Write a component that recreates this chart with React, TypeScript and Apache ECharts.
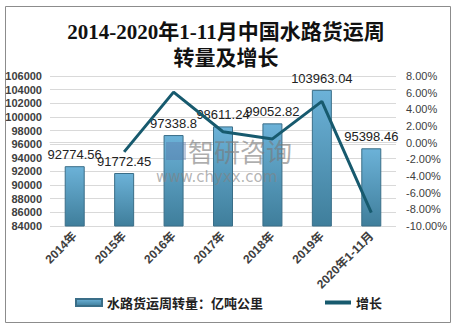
import React, { useEffect, useRef } from "react";
import * as echarts from "echarts";

const categories = ["2014年", "2015年", "2016年", "2017年", "2018年", "2019年", "2020年1-11月"];
const turnover = [92774.56, 91772.45, 97338.8, 98611.24, 99052.82, 103963.04, 95398.46];
const growth = [null, -1.1, 6.07, 1.31, 0.45, 4.96, -8.4];
const titleText = "2014-2020年1-11月中国水路货运周\n转量及增长";
const barName = "水路货运周转量：亿吨公里";
const lineName = "增长";

export default function App() {
  const ref = useRef<HTMLDivElement>(null);
  useEffect(() => {
    if (!ref.current) return;
    const chart = echarts.init(ref.current, null, { renderer: "svg" });
    chart.setOption({
      animation: false,
      backgroundColor: "#fff",
      title: {
        text: titleText,
        left: "center",
        top: 14,
        textStyle: {
          fontFamily: "'Liberation Serif', 'Noto Sans CJK SC', serif",
          fontSize: 21,
          fontWeight: "bold",
          color: "#111",
          lineHeight: 26,
        },
      },
      grid: { left: 50, right: 56, top: 76, bottom: 101, containLabel: false },
      legend: {
        bottom: 13,
        left: 70,
        itemGap: 62,
        itemWidth: 26,
        itemHeight: 7,
        symbolKeepAspect: true,
        textStyle: {
          fontFamily: "'Noto Sans CJK SC', sans-serif",
          fontSize: 13,
          fontWeight: "bold",
          color: "#222",
        },
        data: [
          { name: barName, icon: "rect" },
          { name: lineName, icon: "path://M0,0L26,0L26,4L0,4Z", itemStyle: { color: "#175a6e" } },
        ],
      },
      xAxis: {
        type: "category",
        data: categories,
        axisLine: { show: true, lineStyle: { color: "#d9d9d9" } },
        axisTick: { show: false },
        axisLabel: {
          rotate: 45,
          interval: 0,
          fontFamily: "'Liberation Sans', 'Noto Sans CJK SC', sans-serif",
          fontSize: 12,
          fontWeight: "bold",
          color: "#404040",
          margin: 8,
        },
      },
      yAxis: [
        {
          type: "value",
          min: 84000,
          max: 106000,
          interval: 2000,
          axisLine: { show: false },
          axisTick: { show: false },
          splitLine: { lineStyle: { color: "#d9d9d9" } },
          axisLabel: {
            fontFamily: "'Liberation Sans', sans-serif",
            fontSize: 11,
            fontWeight: "bold",
            color: "#404040",
            margin: 8,
            formatter: (v: number) => String(v),
          },
        },
        {
          type: "value",
          min: -10,
          max: 8,
          interval: 2,
          axisLine: { show: false },
          axisTick: { show: false },
          splitLine: { show: false },
          axisLabel: {
            fontFamily: "'Liberation Sans', sans-serif",
            fontSize: 11,
            color: "#404040",
            margin: 10,
            formatter: (v: number) => v.toFixed(2) + "%",
          },
        },
      ],
      series: [
        {
          name: barName,
          type: "bar",
          data: turnover,
          barWidth: 20,
          itemStyle: {
            color: new echarts.graphic.LinearGradient(0, 0, 0, 1, [
              { offset: 0, color: "#6cb2d8" },
              { offset: 1, color: "#3f7e9b" },
            ]),
            borderColor: "#3a6e88",
            borderWidth: 1,
          },
          label: {
            show: true,
            position: "top",
            distance: 5,
            fontFamily: "'Liberation Sans', sans-serif",
            fontSize: 13,
            color: "#222",
            formatter: (p: any) => String(p.value),
          },
          z: 2,
        },
        {
          name: lineName,
          type: "line",
          yAxisIndex: 1,
          data: growth,
          showSymbol: false,
          symbol: "none",
          connectNulls: false,
          lineStyle: { color: "#175a6e", width: 3 },
          itemStyle: { color: "#175a6e" },
          z: 3,
        },
      ],
      graphic: [
        {
          type: "rect",
          left: 3,
          top: 4,
          shape: { width: 445, height: 316 },
          style: { fill: "none", stroke: "#8c8c8c", lineWidth: 1 },
          silent: true,
          z: -1,
        },
        {
          type: "text",
          left: 188,
          top: 137,
          style: {
            text: "智研咨询",
            fontFamily: "'Noto Sans CJK SC', sans-serif",
            fontSize: 26,
            fill: "rgba(120,120,120,0.6)",
          },
          z: 10,
        },
        {
          type: "text",
          left: 156,
          top: 169,
          style: {
            text: "www.chyxx.com",
            fontFamily: "'DejaVu Sans', sans-serif",
            fontSize: 15,
            fill: "rgba(130,130,130,0.6)",
          },
          z: 10,
        },
        {
          type: "rect",
          left: 166,
          top: 142,
          shape: { width: 20, height: 18 },
          style: { fill: "rgba(90,120,170,0.4)" },
          z: 10,
        },
      ],
    });
    return () => chart.dispose();
  }, []);
  return <div ref={ref} style={{ width: 452, height: 327, position: "absolute", left: 0, top: 0 }} />;
}
